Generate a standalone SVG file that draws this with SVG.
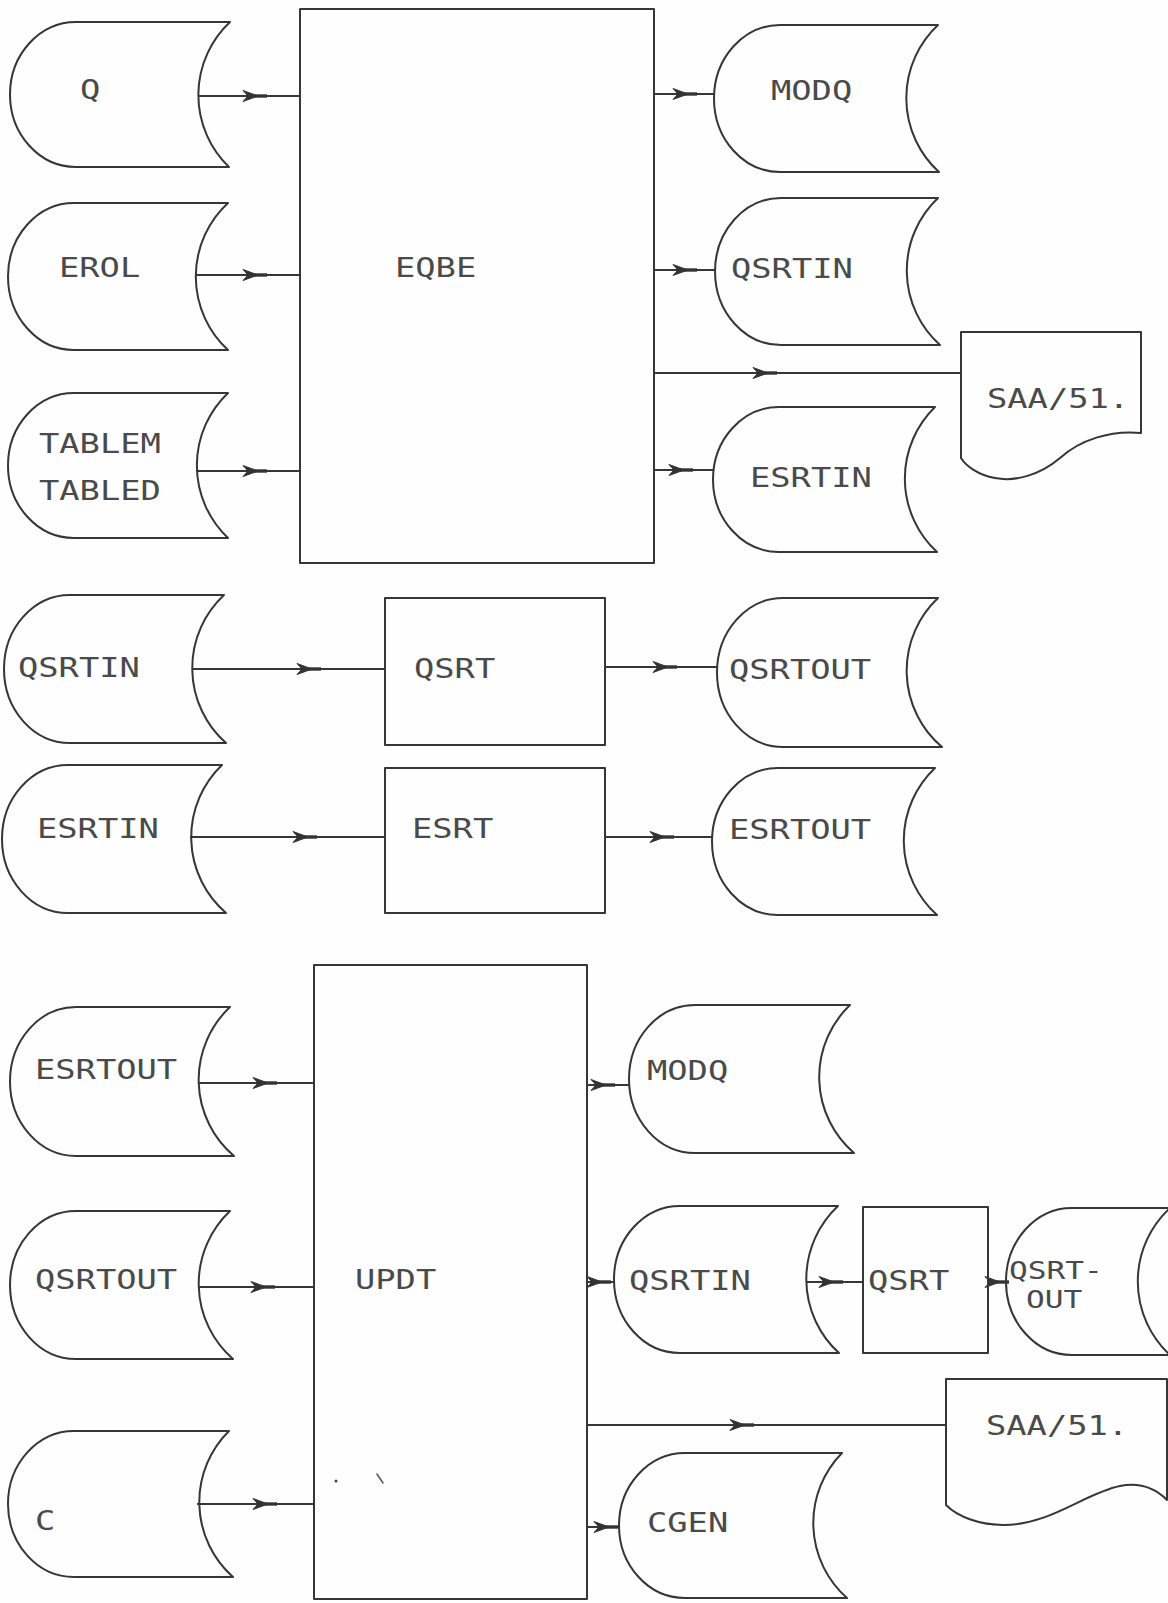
<svg xmlns="http://www.w3.org/2000/svg" width="1168" height="1603" viewBox="0 0 1168 1603">
  <style>
    .shape { fill: none; stroke: #363636; stroke-width: 2; stroke-linejoin: round; }
    .flow { fill: none; stroke: #363636; stroke-width: 2; marker-mid: url(#head); }
    .lbl { font-family: "DejaVu Sans Mono", "Liberation Mono", monospace; font-size: 27px; fill: #4a4a4a; }
    .lbl-sm { font-family: "DejaVu Sans Mono", "Liberation Mono", monospace; font-size: 24px; fill: #4a4a4a; }
    .speck { fill: none; stroke: #555; stroke-width: 1.5; stroke-linecap: round; }
  </style>
  <defs>
    <!-- mid-line flow arrowhead: barbed head with a heavy run-out -->
    <marker id="head" markerUnits="userSpaceOnUse" markerWidth="32" markerHeight="16" viewBox="-20 -8 32 16" refX="0" refY="0" orient="auto" overflow="visible">
      <path d="M-15,-5.5 L0,0 L-15,5.5 L-10,0 Z" fill="#333" stroke="#333" stroke-width="1" stroke-linejoin="round"/>
      <path d="M-4,0 L9,0" stroke="#333" stroke-width="3.4"/>
    </marker>
  </defs>

  <rect x="0" y="0" width="1168" height="1603" fill="#fefefe"/>

  <!-- connectors -->
  <g id="connectors">
    <!-- into EQBE -->
    <path class="flow" d="M198,96 H258 H300"/>
    <path class="flow" d="M196,275 H258 H300"/>
    <path class="flow" d="M196,471 H258 H300"/>
    <!-- out of EQBE -->
    <path class="flow" d="M654,94 H688 H714"/>
    <path class="flow" d="M654,270 H688 H715"/>
    <path class="flow" d="M654,373 H768 H961"/>
    <path class="flow" d="M654,470 H684 H714"/>
    <!-- sort steps -->
    <path class="flow" d="M192,669 H312 H385"/>
    <path class="flow" d="M605,667 H668 H717"/>
    <path class="flow" d="M190,837 H308 H385"/>
    <path class="flow" d="M605,837 H665 H712"/>
    <!-- into UPDT -->
    <path class="flow" d="M198,1083 H268 H314"/>
    <path class="flow" d="M198,1287 H266 H314"/>
    <path class="flow" d="M197,1504 H268 H314"/>
    <!-- out of UPDT -->
    <path class="flow" d="M587,1085 H606 H629"/>
    <path class="flow" d="M587,1282 H602 H614"/>
    <path class="flow" d="M806,1282 H834 H863"/>
    <path class="flow" d="M988,1282 H1000 H1006"/>
    <path class="flow" d="M587,1425 H745 H946"/>
    <path class="flow" d="M587,1527 H609 H619"/>
  </g>

  <!-- first run: EQBE -->
  <g id="n-q">
    <path class="shape" d="M76,22 H230 A100,100 0 0 0 229,167 H76 A66,72.5 0 0 1 76,22 Z"/>
    <text class="lbl" transform="translate(80,99) scale(1.25,1)">Q</text>
  </g>
  <g id="n-erol">
    <path class="shape" d="M74,203 H228 A100,100 0 0 0 228,350 H74 A66,73.5 0 0 1 74,203 Z"/>
    <text class="lbl" transform="translate(59,277) scale(1.25,1)">EROL</text>
  </g>
  <g id="n-table">
    <path class="shape" d="M74,393 H228 A100,100 0 0 0 228,538 H74 A66,72.5 0 0 1 74,393 Z"/>
    <text class="lbl" transform="translate(39,453) scale(1.25,1)">TABLEM</text>
    <text class="lbl" transform="translate(39,500) scale(1.25,1)">TABLED</text>
  </g>
  <g id="n-eqbe">
    <rect class="shape" x="300" y="9" width="354" height="554"/>
    <text class="lbl" transform="translate(395,277) scale(1.25,1)">EQBE</text>
  </g>
  <g id="n-modq-1">
    <path class="shape" d="M780,25 H938 A100,100 0 0 0 939,172 H780 A66,73.5 0 0 1 780,25 Z"/>
    <text class="lbl" transform="translate(771,100) scale(1.25,1)">MODQ</text>
  </g>
  <g id="n-qsrtin-1">
    <path class="shape" d="M781,198 H938 A100,100 0 0 0 940,345 H781 A66,73.5 0 0 1 781,198 Z"/>
    <text class="lbl" transform="translate(731,278) scale(1.25,1)">QSRTIN</text>
  </g>
  <g id="n-saa-1">
    <path class="shape" d="M961,332 H1141 V433 C1110,430 1080,440 1060,458 C1040,475 1015,482 995,478 C978,475 966,466 961,458 Z"/>
    <text class="lbl" transform="translate(987,408) scale(1.25,1)">SAA/51.</text>
  </g>
  <g id="n-esrtin-1">
    <path class="shape" d="M779,407 H935 A100,100 0 0 0 937,552 H779 A66,72.5 0 0 1 779,407 Z"/>
    <text class="lbl" transform="translate(750,487) scale(1.25,1)">ESRTIN</text>
  </g>

  <!-- sort runs -->
  <g id="n-qsrtin-2">
    <path class="shape" d="M70,595 H224 A100,100 0 0 0 226,743 H70 A66,74 0 0 1 70,595 Z"/>
    <text class="lbl" transform="translate(18,677) scale(1.25,1)">QSRTIN</text>
  </g>
  <g id="n-qsrt-1">
    <rect class="shape" x="385" y="598" width="220" height="147"/>
    <text class="lbl" transform="translate(414,678) scale(1.25,1)">QSRT</text>
  </g>
  <g id="n-qsrtout-1">
    <path class="shape" d="M783,598 H938 A100,100 0 0 0 942,747 H783 A66,74.5 0 0 1 783,598 Z"/>
    <text class="lbl" transform="translate(729,679) scale(1.25,1)">QSRTOUT</text>
  </g>
  <g id="n-esrtin-2">
    <path class="shape" d="M68,765 H222 A100,100 0 0 0 226,913 H68 A66,74 0 0 1 68,765 Z"/>
    <text class="lbl" transform="translate(37,838) scale(1.25,1)">ESRTIN</text>
  </g>
  <g id="n-esrt">
    <rect class="shape" x="385" y="768" width="220" height="145"/>
    <text class="lbl" transform="translate(412,838) scale(1.25,1)">ESRT</text>
  </g>
  <g id="n-esrtout-1">
    <path class="shape" d="M778,768 H935 A100,100 0 0 0 937,915 H778 A66,73.5 0 0 1 778,768 Z"/>
    <text class="lbl" transform="translate(729,839) scale(1.25,1)">ESRTOUT</text>
  </g>

  <!-- update run: UPDT -->
  <g id="n-esrtout-2">
    <path class="shape" d="M76,1007 H230 A100,100 0 0 0 234,1156 H76 A66,74.5 0 0 1 76,1007 Z"/>
    <text class="lbl" transform="translate(35,1079) scale(1.25,1)">ESRTOUT</text>
  </g>
  <g id="n-qsrtout-2">
    <path class="shape" d="M76,1211 H230 A100,100 0 0 0 233,1359 H76 A66,74 0 0 1 76,1211 Z"/>
    <text class="lbl" transform="translate(35,1289) scale(1.25,1)">QSRTOUT</text>
  </g>
  <g id="n-c">
    <path class="shape" d="M74,1431 H229 A100,100 0 0 0 233,1577 H74 A66,73 0 0 1 74,1431 Z"/>
    <text class="lbl" transform="translate(35,1530) scale(1.25,1)">C</text>
  </g>
  <g id="n-updt">
    <rect class="shape" x="314" y="965" width="273" height="634"/>
    <text class="lbl" transform="translate(355,1289) scale(1.25,1)">UPDT</text>
  </g>
  <g id="n-modq-2">
    <path class="shape" d="M695,1005 H850 A100,100 0 0 0 854,1153 H695 A66,74 0 0 1 695,1005 Z"/>
    <text class="lbl" transform="translate(647,1080) scale(1.25,1)">MODQ</text>
  </g>
  <g id="n-qsrtin-3">
    <path class="shape" d="M680,1206 H838 A100,100 0 0 0 839,1353 H680 A66,73.5 0 0 1 680,1206 Z"/>
    <text class="lbl" transform="translate(629,1290) scale(1.25,1)">QSRTIN</text>
  </g>
  <g id="n-qsrt-2">
    <rect class="shape" x="863" y="1207" width="125" height="146"/>
    <text class="lbl" transform="translate(868,1290) scale(1.25,1)">QSRT</text>
  </g>
  <g id="n-qsrtout-3">
    <path class="shape" d="M1072,1208 H1170 A100,100 0 0 0 1170,1355 H1072 A66,73.5 0 0 1 1072,1208 Z"/>
    <text class="lbl-sm" transform="translate(1009,1279) scale(1.3,1)">QSRT-</text>
    <text class="lbl-sm" transform="translate(1026,1308) scale(1.3,1)">OUT</text>
  </g>
  <g id="n-saa-2">
    <path class="shape" d="M946,1379 H1167 V1500 C1155,1488 1140,1482 1120,1486 C1085,1493 1050,1525 1004,1525 C980,1525 958,1517 946,1505 Z"/>
    <text class="lbl" transform="translate(986,1435) scale(1.25,1)">SAA/51.</text>
  </g>
  <g id="n-cgen">
    <path class="shape" d="M685,1453 H842 A100,100 0 0 0 847,1598 H685 A66,72.5 0 0 1 685,1453 Z"/>
    <text class="lbl" transform="translate(647,1532) scale(1.25,1)">CGEN</text>
  </g>

  <!-- small pen marks inside UPDT -->
  <circle cx="336" cy="1481" r="1.5" fill="#444"/>
  <path class="speck" d="M377,1474 L383,1483"/>
</svg>
